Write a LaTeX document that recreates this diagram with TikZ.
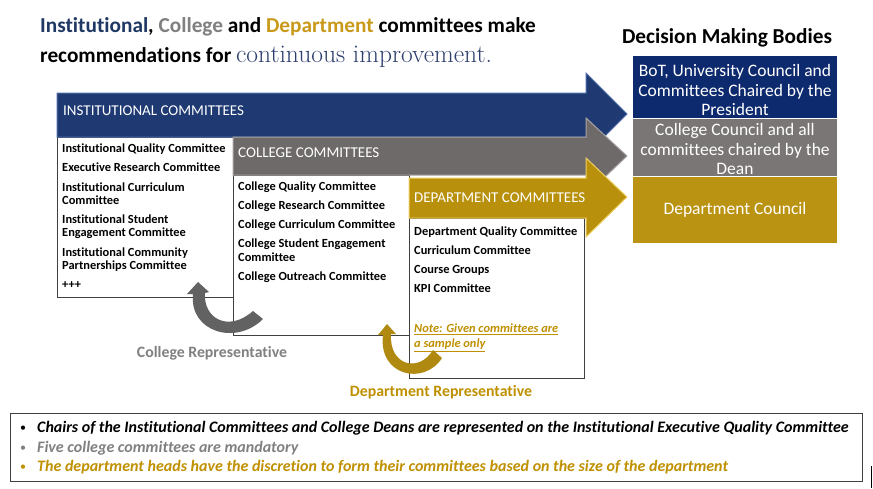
\documentclass[tikz,border=0pt]{standalone}
\usepackage{fontspec}
\setsansfont[Ligatures=NoCommon]{Carlito}
\definecolor{instblue}{HTML}{1F3864}
\definecolor{collgray}{HTML}{808080}
\definecolor{deptgold}{HTML}{C99A1A}
\definecolor{contblue}{HTML}{2E3F6E}
\definecolor{arrblue}{HTML}{1F3A73}
\definecolor{arrblueedge}{HTML}{4E6DAA}
\definecolor{arrgray}{HTML}{6E6A6A}
\definecolor{arrgrayedge}{HTML}{A8A4A4}
\definecolor{arrgold}{HTML}{B8900C}
\definecolor{arrgoldedge}{HTML}{EED062}
\definecolor{bodyblue}{HTML}{0E2A6E}
\definecolor{bodygray}{HTML}{7B7676}
\definecolor{bodygold}{HTML}{BB9312}
\definecolor{notegold}{HTML}{BF9000}
\definecolor{boxline}{HTML}{404040}
\definecolor{curvegray}{HTML}{626262}
\definecolor{curvegold}{HTML}{B08A10}
\tikzset{
  listtxt/.style={anchor=base west, inner sep=0pt, font=\sffamily\bfseries\fontsize{12.4}{14}\selectfont},
  arrtxt/.style={anchor=west, inner sep=0pt, text=white, font=\sffamily\fontsize{15}{17}\selectfont},
  bodytxt/.style={align=center, text=white, inner sep=0pt, font=\sffamily\fontsize{17.5}{19.3}\selectfont},
  listbox/.style={draw=boxline, fill=white, line width=0.8pt},
  bigarrow/.style={line width=1pt, line join=miter},
  reptxt/.style={inner sep=0pt, font=\sffamily\bfseries\fontsize{15.8}{18}\selectfont},
  notetxt/.style={anchor=base west, inner sep=0pt, font=\sffamily\fontsize{16}{18}\selectfont\bfseries\itshape},
  bullettxt/.style={anchor=base west, inner sep=0pt, font=\sffamily\fontsize{12}{14}\selectfont},
}
\begin{document}
\begin{tikzpicture}[x=1pt,y=-1pt]
\useasboundingbox (0,0) rectangle (873,488);
\fill[white] (0,0) rectangle (873,488);

% headline
\node[anchor=base west, inner sep=0pt, font=\sffamily\bfseries\fontsize{21.3}{24}\selectfont] (head1) at (40,32)
  {\textcolor{instblue}{Institutional}, \textcolor{collgray}{College} and \textcolor{deptgold}{Department} committees make};
\node[anchor=base west, inner sep=0pt, font=\sffamily\bfseries\fontsize{21.3}{24}\selectfont] (head2) at (40,62)
  {recommendations for {\rmfamily\mdseries\fontsize{25.5}{28}\selectfont\color{contblue}continuous improvement.}};

% list boxes
\draw[listbox] (57,137) rectangle (233,297);
\draw[listbox] (233,175) rectangle (409,335);
\draw[listbox] (409,218) rectangle (584,378);

% big arrows
\draw[bigarrow, fill=arrblue, draw=arrblueedge]
  (57,93) -- (586,93) -- (586,73) -- (627,114) -- (586,155) -- (586,137) -- (57,137) -- cycle;
\draw[bigarrow, fill=arrgray, draw=arrgrayedge]
  (233,137) -- (586,137) -- (586,118) -- (627,156) -- (586,195) -- (586,175) -- (233,175) -- cycle;
\draw[bigarrow, fill=arrgold, draw=arrgoldedge]
  (409,178) -- (586,178) -- (586,158) -- (627,197) -- (586,237) -- (586,218) -- (409,218) -- cycle;

\node[arrtxt] (instlbl) at (63,111) {INSTITUTIONAL COMMITTEES};
\node[arrtxt] (colllbl) at (238,153) {COLLEGE COMMITTEES};
\node[arrtxt] (deptlbl) at (414,198) {DEPARTMENT COMMITTEES};

% institutional list
\node[listtxt] (i1) at (62,152.5) {Institutional Quality Committee};
\node[listtxt] (i2) at (62,171.5) {Executive Research Committee};
\node[listtxt] (i3) at (62,191) {Institutional Curriculum};
\node[listtxt] (i3b) at (62,204.5) {Committee};
\node[listtxt] (i4) at (62,223) {Institutional Student};
\node[listtxt] (i4b) at (62,236.5) {Engagement Committee};
\node[listtxt] (i5) at (62,256) {Institutional Community};
\node[listtxt] (i5b) at (62,269.5) {Partnerships Committee};
\node[listtxt] (i6) at (62,288.5) {+++};

% college list
\node[listtxt] (c1) at (238,190.5) {College Quality Committee};
\node[listtxt] (c2) at (238,209.5) {College Research Committee};
\node[listtxt] (c3) at (238,228.5) {College Curriculum Committee};
\node[listtxt] (c4) at (238,247.5) {College Student Engagement};
\node[listtxt] (c4b) at (238,261) {Committee};
\node[listtxt] (c5) at (238,280.5) {College Outreach Committee};

% department list
\node[listtxt] (d1) at (414,235.5) {Department Quality Committee};
\node[listtxt] (d2) at (414,254.5) {Curriculum Committee};
\node[listtxt] (d3) at (414,273.5) {Course Groups};
\node[listtxt] (d4) at (414,292.5) {KPI Committee};
\node[listtxt, text=notegold, font=\sffamily\bfseries\itshape\fontsize{12.4}{14}\selectfont] (n1) at (414,332.5) {\underline{Note: Given committees are}};
\node[listtxt, text=notegold, font=\sffamily\bfseries\itshape\fontsize{12.4}{14}\selectfont] (n2) at (414,347.5) {\underline{a sample only}};

% decision making bodies
\node[inner sep=0pt, font=\sffamily\bfseries\fontsize{21.3}{24}\selectfont] (dmb) at (727,38) {Decision Making Bodies};
\fill[bodyblue] (633,56) rectangle (837,118);
\fill[bodygray] (633,118) rectangle (837,176);
\fill[bodygold] (633,176) rectangle (837,243);
\draw[white, line width=1pt] (633,118) -- (837,118) (633,176) -- (837,176);
\node[bodytxt] (bot) at (735,90) {BoT, University Council and\\Committees Chaired by the\\President};
\node[bodytxt] (cc) at (735,149) {College Council and all\\committees chaired by the\\Dean};
\node[bodytxt] (dc) at (735,209.5) {Department Council};

% curved arrows
\fill[curvegray] (198,282) -- (209,292) -- (205,293)
  .. controls (203,318) and (228,333) .. (253,311) -- (263,319)
  .. controls (236,346) and (189,332) .. (193,294) -- (187,294) -- cycle;
\fill[curvegold] (387,324) -- (396,334) -- (391,334)
  .. controls (389,366) and (419,373) .. (433,350) -- (442,358)
  .. controls (424,386) and (378,376) .. (383,335) -- (378,335) -- cycle;
\node[reptxt, text=collgray] (crep) at (212,353) {College Representative};
\node[reptxt, text=notegold] (drep) at (441,392) {Department Representative};

% bottom notes
\draw[boxline, line width=0.9pt] (10,413) rectangle (862,481);
\node[bullettxt] (b1dot) at (20,431.5) {•};
\node[notetxt] (b1) at (37,432.3) {Chairs of the Institutional Committees and College Deans are represented on the Institutional Executive Quality Committee};
\node[bullettxt, text=collgray] (b2dot) at (20,451.5) {•};
\node[notetxt, text=collgray] (b2) at (37,452.3) {Five college committees are mandatory};
\node[bullettxt, text=notegold] (b3dot) at (20,470.5) {•};
\node[notetxt, text=notegold] (b3) at (37,471.3) {The department heads have the discretion to form their committees based on the size of the department};
\draw[black, line width=1pt] (871,466) -- (871,488);
\end{tikzpicture}
\end{document}
